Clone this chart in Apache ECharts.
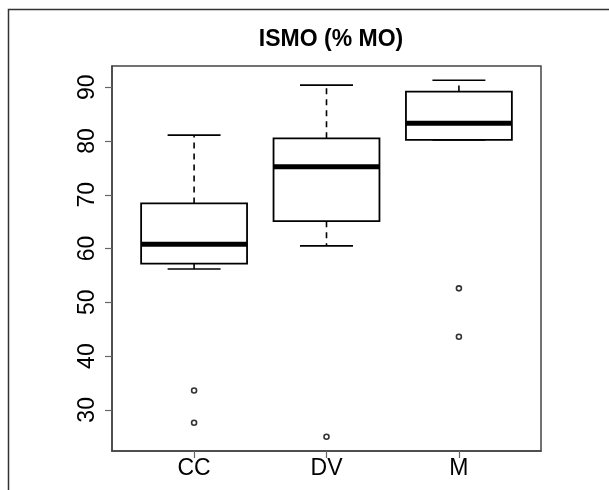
<!DOCTYPE html>
<html>
<head>
<meta charset="utf-8">
<script src="https://cdn.jsdelivr.net/npm/echarts@6/dist/echarts.min.js"></script>
<style>
  html, body { margin: 0; padding: 0; background: #fff; }
  #chart { width: 609px; height: 490px; }
</style>
</head>
<body>
<div id="chart"></div>
<script>
// Box-and-whisker summary of ISMO (% MO) by group
const categories = ['CC', 'DV', 'M'];
const lowerWhisker = [56.2, 60.5, 80.2];
const q1 = [57.2, 65.1, 80.2];
const median = [60.8, 75.2, 83.3];
const q3 = [68.4, 80.5, 89.2];
const upperWhisker = [81.1, 90.4, 91.3];
const outliers = [[33.6, 27.6], [25.0], [52.6, 43.6]];
const yTicks = [30, 40, 50, 60, 70, 80, 90];

// group positions are 1..n, value range padded by 4% on each side
const positions = categories.map((_, i) => i + 1);
const allValues = [].concat(lowerWhisker, upperWhisker, ...outliers);
const dMin = Math.min(...allValues), dMax = Math.max(...allValues);
const pad = (dMax - dMin) * 0.04;
const xPad = (categories.length) * 0.04;

const boxData = positions.map((x, i) =>
  [x, lowerWhisker[i], q1[i], median[i], q3[i], upperWhisker[i]]);
const outlierData = [];
outliers.forEach((vals, i) => vals.forEach(v => outlierData.push([positions[i], v])));

const HALF_BOX = 0.4, HALF_CAP = 0.2;

function renderBox(params, api) {
  const x = api.value(0);
  const lw = api.value(1), lo = api.value(2), md = api.value(3), hi = api.value(4), uw = api.value(5);
  const pL = api.coord([x - HALF_BOX, hi]);
  const pR = api.coord([x + HALF_BOX, lo]);
  const cx = api.coord([x, md])[0];
  const capL = api.coord([x - HALF_CAP, 0])[0];
  const capR = api.coord([x + HALF_CAP, 0])[0];
  const yLw = api.coord([x, lw])[1], yLo = api.coord([x, lo])[1];
  const yMd = api.coord([x, md])[1], yHi = api.coord([x, hi])[1], yUw = api.coord([x, uw])[1];
  const solid = { stroke: '#000', lineWidth: 1.6 };
  const dashed = { stroke: '#000', lineWidth: 1.6, lineDash: [6, 5] };
  const children = [
    { type: 'line', shape: { x1: cx, y1: yHi, x2: cx, y2: yUw }, style: dashed },
    { type: 'line', shape: { x1: capL, y1: yUw, x2: capR, y2: yUw }, style: solid },
    { type: 'line', shape: { x1: cx, y1: yLo, x2: cx, y2: yLw }, style: dashed },
    { type: 'line', shape: { x1: capL, y1: yLw, x2: capR, y2: yLw }, style: solid },
    { type: 'rect', shape: { x: pL[0], y: pL[1], width: pR[0] - pL[0], height: pR[1] - pL[1] },
      style: { fill: '#fff', stroke: '#000', lineWidth: 1.8 } },
    { type: 'line', shape: { x1: pL[0], y1: yMd, x2: pR[0], y2: yMd }, style: { stroke: '#000', lineWidth: 5 } }
  ];
  return { type: 'group', children };
}

const chart = echarts.init(document.getElementById('chart'), null, { renderer: 'canvas' });
const font = '"Liberation Sans", Arial, Helvetica, sans-serif';

chart.setOption({
  animation: false,
  backgroundColor: '#fff',
  title: {
    text: 'ISMO (% MO)',
    left: 326,
    textAlign: 'center',
    top: 23,
    textStyle: { fontFamily: font, fontWeight: 'bold', fontSize: 23, color: '#000' }
  },
  graphic: [
    { type: 'polyline', shape: { points: [[8.5, 490], [8.5, 9.5], [609, 9.5]] },
      style: { stroke: '#333', lineWidth: 1.5, fill: null }, silent: true }
  ],
  grid: {
    left: 112, right: 68, top: 66, bottom: 39,
    show: true, borderColor: '#444', borderWidth: 1.5, backgroundColor: 'transparent'
  },
  xAxis: {
    type: 'value',
    min: 1 - 0.5 - xPad,
    max: categories.length + 0.5 + xPad,
    splitLine: { show: false },
    axisLine: { show: true, lineStyle: { color: '#444', width: 1.5 } },
    axisTick: { show: true, length: 7, customValues: positions, lineStyle: { color: '#666', width: 1.2 } },
    axisLabel: {
      customValues: positions,
      formatter: v => categories[Math.round(v) - 1] || '',
      margin: 6,
      fontFamily: font, fontSize: 23, color: '#000'
    }
  },
  yAxis: {
    type: 'value',
    min: dMin - pad,
    max: dMax + pad,
    splitLine: { show: false },
    axisLine: { show: true, lineStyle: { color: '#444', width: 1.5 } },
    axisTick: { show: true, length: 7, customValues: yTicks, lineStyle: { color: '#666', width: 1.2 } },
    axisLabel: {
      customValues: yTicks,
      rotate: 90,
      margin: 13,
      fontFamily: font, fontSize: 23, color: '#000'
    }
  },
  series: [
    {
      type: 'custom',
      renderItem: renderBox,
      data: boxData,
      encode: { x: 0, y: [1, 2, 3, 4, 5] },
      clip: false
    },
    {
      type: 'scatter',
      data: outlierData,
      symbol: 'circle',
      symbolSize: 5,
      itemStyle: { color: '#fff', borderColor: '#000', borderWidth: 1.6 }
    }
  ]
});
</script>
</body>
</html>
